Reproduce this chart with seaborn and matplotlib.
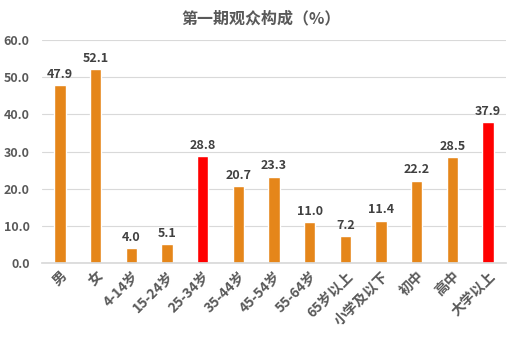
import matplotlib
matplotlib.use("Agg")
import matplotlib.pyplot as plt
import seaborn as sns
import pandas as pd

categories = ["男", "女", "4-14岁", "15-24岁", "25-34岁", "35-44岁", "45-54岁",
              "55-64岁", "65岁以上", "小学及以下", "初中", "高中", "大学以上"]
values = [47.9, 52.1, 4.0, 5.1, 28.8, 20.7, 23.3, 11.0, 7.2, 11.4, 22.2, 28.5, 37.9]
highlight = ["25-34岁", "大学以上"]
yticks = [0, 10, 20, 30, 40, 50, 60]
title = "第一期观众构成（%）"

sns.set_theme(style="white")
plt.rcParams["font.family"] = ["Noto Sans CJK SC", "DejaVu Sans"]

orange = "#E5861A"
red = "#FF0000"
palette = {c: (red if c in highlight else orange) for c in categories}

df = pd.DataFrame({"cat": categories, "val": values})

fig = plt.figure(figsize=(5.32, 3.40), dpi=100)
ax = fig.add_axes([0.079, 0.226, 0.872, 0.656])

sns.barplot(data=df, x="cat", y="val", hue="cat", palette=palette,
            order=categories, width=0.32, legend=False, ax=ax, saturation=1)

ax.set_ylim(0, 60)
ax.set_yticks(yticks)
ax.set_yticklabels([f"{t:.1f}" for t in yticks], fontsize=9, color="#595959",
                   fontweight="bold")
ax.yaxis.grid(True, color="#D9D9D9", linewidth=0.8)
ax.set_axisbelow(True)
ax.set_xlim(-0.5, len(categories) - 0.5)
for s in ["top", "right", "left"]:
    ax.spines[s].set_visible(False)
ax.spines["bottom"].set_color("#D9D9D9")
ax.tick_params(axis="x", length=0, pad=4)
ax.tick_params(axis="y", length=0, pad=9)
ax.set_xlabel("")
ax.set_ylabel("")
ax.set_xticks(range(len(categories)))
ax.set_xticklabels(categories, rotation=45, ha="right", rotation_mode="anchor",
                   fontsize=10, color="#595959", fontweight="bold")

for i, v in enumerate(values):
    ax.text(i, v + 1.2, f"{v:.1f}", ha="center", va="bottom", fontsize=9,
            color="#404040", fontweight="bold")

fig.text(0.49, 0.945, title, ha="center", va="center", fontsize=11.5,
         color="#595959", fontweight="bold")

fig.savefig("out.png", dpi=100, facecolor="white")
